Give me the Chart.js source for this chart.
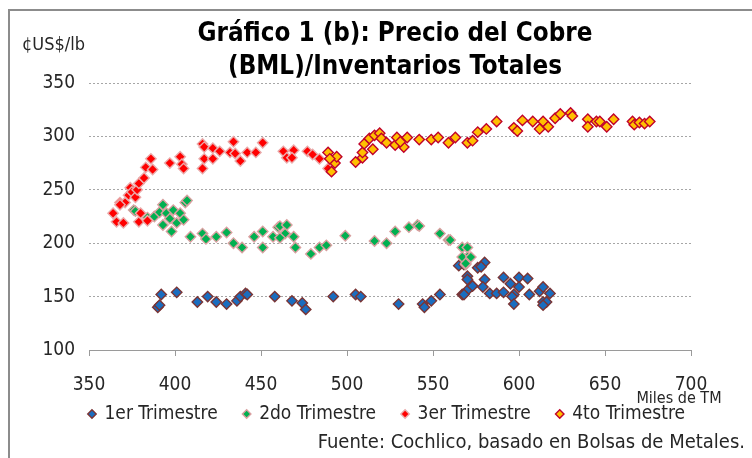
<!DOCTYPE html>
<html><head><meta charset="utf-8">
<script src="https://cdn.jsdelivr.net/npm/chart.js@4"></script>
<style>html,body{margin:0;padding:0;background:#fff}</style>
</head><body>
<canvas id="c" width="752" height="458"></canvas>
<script>
const seriesNames = ['1er Trimestre', '2do Trimestre', '3er Trimestre', '4to Trimestre'];
const xTicks = [350, 400, 450, 500, 550, 600, 650, 700];
const yTicks = [100, 150, 200, 250, 300, 350];

const q1x = [390,391,392,401,413,419,424,430,436,438,441,442,458,468,474,476,492,505,508,530,544,545,549,554,567,570,573,565,568,576,580,578,570,570,580,573,568,579,583,587,591,591,595,600,605,600,597,596,597,606,612,614,618,614,616,614];
const q1y = [140,142,152,154,145,150,145,143,146,150,153,152,150,146,144,138,150,152,150,143,143,140,146,152,152,156,160,179,180,177,182,178,169,166,166,160,152,159,153,153,168,154,162,168,167,159,152,150,143,152,155,159,153,145,145,142];

const q2x = [376,377,384,388,391,393,393,395,397,399,398,401,403,405,406,407,409,416,418,424,430,434,439,446,451,451,457,460,461,465,464,469,461,470,479,484,488,499,516,523,528,536,541,542,554,559,560,567,570,570,567,572,569,569];
const q2y = [231,230,224,225,229,236,217,228,223,231,211,219,228,222,238,240,206,209,204,206,210,200,196,206,211,196,206,215,216,217,209,206,205,196,190,196,198,207,202,200,211,215,217,216,209,203,203,196,196,187,187,187,180,181];

const q3x = [364,366,370,368,371,368,373,374,375,377,378,379,382,383,386,387,379,380,384,397,403,404,405,416,417,422,426,434,432,435,417,416,422,438,442,447,451,463,469,465,468,477,480,484,489];
const q3y = [228,220,219,238,238,236,245,252,248,243,250,256,261,271,279,269,220,228,221,275,281,274,270,293,290,289,286,295,285,284,279,270,279,277,285,285,294,286,287,280,280,286,283,279,270];

const q4x = [489,491,493,494,490,505,509,509,515,510,513,516,519,520,523,528,529,533,531,535,542,549,553,559,563,570,573,576,581,587,597,599,602,608,614,612,617,621,624,630,631,640,640,645,647,651,655,666,667,670,673,676];
const q4y = [285,267,275,281,279,276,280,285,288,293,298,301,303,298,294,292,299,290,295,299,297,297,299,294,299,294,296,304,307,314,308,305,315,314,314,307,309,317,321,322,319,316,309,314,314,309,316,314,311,313,312,314];

const FONT = "'DejaVu Sans Condensed','Liberation Sans Narrow','Open Sans',sans-serif";
const TEXT = '#262626';

const toPts = (xs, ys) => xs.map((x, i) => ({x: x, y: ys[i]}));

const styles = [
  {bg: '#1a6dbf', bd: '#7a3434'},
  {bg: '#00b050', bd: '#d9a0a0'},
  {bg: '#ff0000', bd: '#eaaaaa'},
  {bg: '#ffc000', bd: '#c0002a'}
];
const xsAll = [q1x, q2x, q3x, q4x];
const ysAll = [q1y, q2y, q3y, q4y];

const datasets = seriesNames.map((name, i) => ({
  label: name,
  data: toPts(xsAll[i], ysAll[i]),
  pointStyle: 'rectRot',
  pointRadius: 5.2,
  pointBorderWidth: 1.4,
  borderWidth: 1.4,
  backgroundColor: styles[i].bg,
  borderColor: styles[i].bd,
  pointBackgroundColor: styles[i].bg,
  pointBorderColor: styles[i].bd,
  showLine: false,
  order: 4 - i
}));

const LEGEND_SHIFT = 15.5;

const decor = {
  id: 'decor',
  afterLayout(chart) {
    if (chart.legend) {
      chart.legend.top -= LEGEND_SHIFT;
      chart.legend.bottom -= LEGEND_SHIFT;
    }
  },
  beforeDraw(chart) {
    const ctx = chart.ctx;
    ctx.save();
    ctx.fillStyle = '#fff';
    ctx.fillRect(0, 0, chart.width, chart.height);
    ctx.strokeStyle = '#8c8c8c';
    ctx.lineWidth = 2;
    ctx.beginPath();
    ctx.moveTo(9, chart.height + 5);
    ctx.lineTo(9, 10);
    ctx.lineTo(chart.width + 5, 10);
    ctx.stroke();
    ctx.restore();
  },
  afterDraw(chart) {
    const ctx = chart.ctx;
    ctx.save();
    ctx.fillStyle = '#000';
    ctx.textBaseline = 'middle';
    ctx.textAlign = 'center';
    ctx.font = 'bold 26px ' + FONT;
    const l1 = 'Gráfico 1 (b): Precio del Cobre';
    const l2 = '(BML)/Inventarios Totales';
    const sx = 395 / ctx.measureText(l1).width;
    [[l1, 34], [l2, 67]].forEach(([t, y]) => {
      ctx.save(); ctx.translate(395, y); ctx.scale(sx, 1); ctx.fillText(t, 0, 0); ctx.restore();
    });
    ctx.fillStyle = TEXT;
    ctx.textAlign = 'left';
    ctx.font = '18px ' + FONT;
    ctx.fillText('¢US$/lb', 22, 45);
    ctx.textAlign = 'center';
    ctx.font = '16px ' + FONT;
    ctx.fillText('Miles de TM', 679, 399);
    ctx.textAlign = 'right';
    ctx.font = '20px ' + FONT;
    ctx.fillText('Fuente: Cochlico, basado en Bolsas de Metales.', 745, 443);
    ctx.restore();
  }
};

new Chart(document.getElementById('c'), {
  type: 'scatter',
  data: {datasets: datasets},
  plugins: [decor],
  options: {
    responsive: false,
    animation: false,
    devicePixelRatio: 1,
    layout: {padding: {left: 22, right: 0, top: 83, bottom: 9}},
    plugins: {
      title: {display: false},
      tooltip: {enabled: false},
      legend: {
        position: 'bottom',
        labels: {
          usePointStyle: true,
          boxWidth: 6,
          boxHeight: 6,
          padding: 26,
          color: TEXT,
          font: {size: 19, family: FONT},
          sort: (a, b) => a.datasetIndex - b.datasetIndex
        }
      }
    },
    scales: {
      x: {
        type: 'linear',
        min: 350, max: 700,
        afterBuildTicks: s => { s.ticks = xTicks.map(v => ({value: v})); },
        afterFit: s => { s.height = 44; },
        ticks: {padding: 18, color: TEXT, font: {size: 19, family: FONT}},
        grid: {drawOnChartArea: false, drawTicks: true, tickLength: 6, color: '#9a9a9a'},
        border: {display: true, color: '#9a9a9a', width: 1}
      },
      y: {
        min: 100, max: 350,
        afterBuildTicks: s => { s.ticks = yTicks.map(v => ({value: v})); },
        afterFit: s => { s.width = 67; },
        ticks: {padding: 14, color: TEXT, font: {size: 19, family: FONT}},
        grid: {drawTicks: false, color: '#a6a6a6', lineWidth: 1},
        border: {display: false, dash: [2, 2]}
      },
      yRight: {
        position: 'right',
        min: 100, max: 350,
        afterFit: s => { s.width = 61; },
        ticks: {display: false},
        grid: {display: false, drawTicks: false},
        border: {display: false}
      }
    }
  }
});
</script>
</body></html>
